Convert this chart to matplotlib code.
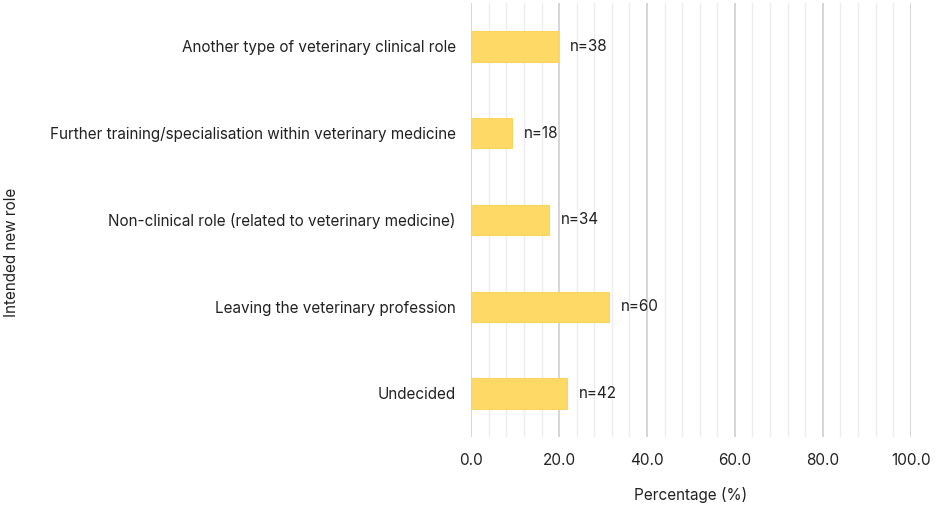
import matplotlib.pyplot as plt
import numpy as np

# categories bottom to top
roles = ['Undecided',
         'Leaving the veterinary profession',
         'Non-clinical role (related to veterinary medicine)',
         'Further training/specialisation within veterinary medicine',
         'Another type of veterinary clinical role']
counts = [42, 60, 34, 18, 38]
total = sum(counts)
pct = [c / total * 100 for c in counts]

plt.rcParams['font.family'] = ['Inter', 'DejaVu Sans']

fig = plt.figure(figsize=(9.35, 5.05), dpi=100)
ax = fig.add_axes([0.504, 0.135, 0.470, 0.859])

y = np.arange(len(roles))
ax.barh(y, pct, height=0.35, color='#FFD966', edgecolor='#F9D45E', linewidth=0.8, zorder=3)
for yi, p, c in zip(y, pct, counts):
    ax.text(p + 2.7, yi, f'n={c}', va='center', ha='left', fontsize=11, color='#222222')

ax.set_xlim(0, 100)
ax.set_ylim(-0.5, len(roles) - 0.5)
ax.set_xticks(np.arange(0, 101, 20))
ax.set_xticks(np.arange(0, 101, 4), minor=True)
ax.set_xticklabels([f'{v:.1f}' for v in np.arange(0, 101, 20)])
ax.set_yticks(y)
ax.set_yticklabels(roles)
ax.grid(axis='x', which='major', color='#D0D0D0', linewidth=1.2, zorder=0)
ax.grid(axis='x', which='minor', color='#EDEDED', linewidth=1.0, zorder=0)
for s in ax.spines.values():
    s.set_visible(False)
ax.tick_params(axis='both', which='both', length=0, labelsize=11, colors='#222222')
ax.tick_params(axis='x', pad=12)
ax.tick_params(axis='y', pad=11)
ax.set_xlabel('Percentage (%)', fontsize=11, color='#222222', labelpad=13)
fig.text(0.012, 0.5, 'Intended new role', rotation=90, va='center', ha='center', fontsize=11, color='#222222')

fig.savefig('out.png', dpi=100)
